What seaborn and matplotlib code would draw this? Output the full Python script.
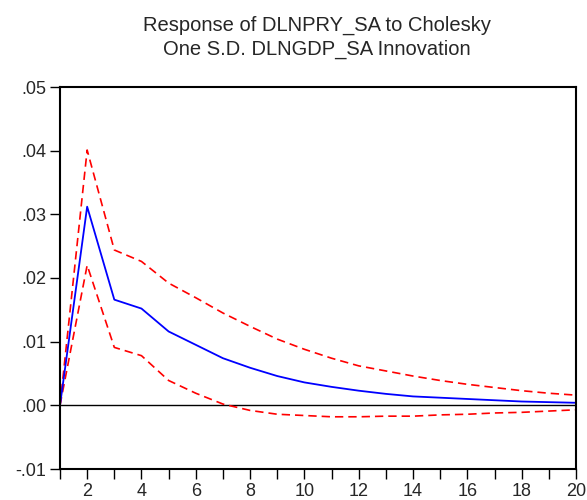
import numpy as np
import pandas as pd
import matplotlib
matplotlib.use("Agg")
import matplotlib.pyplot as plt
import seaborn as sns
from matplotlib.ticker import FuncFormatter, MultipleLocator

# impulse response values
periods = list(range(1, 21))
response = [0.0, 0.0312, 0.0166, 0.0152, 0.0116, 0.0095, 0.0074, 0.0059, 0.0046, 0.0036,
            0.0029, 0.0023, 0.0018, 0.0014, 0.0012, 0.0010, 0.0008, 0.0006, 0.0005, 0.0004]
upper = [0.0, 0.0401, 0.0244, 0.0226, 0.0192, 0.0169, 0.0145, 0.0124, 0.0104, 0.0088,
         0.0074, 0.0062, 0.0054, 0.0046, 0.0039, 0.0033, 0.0028, 0.0023, 0.0019, 0.0016]
lower = [0.0, 0.0220, 0.0091, 0.0078, 0.0039, 0.0019, 0.0002, -0.0008, -0.0014, -0.0016,
         -0.0018, -0.0018, -0.0017, -0.0017, -0.0015, -0.0014, -0.0012, -0.0011, -0.0009, -0.0007]

df = pd.DataFrame({"period": periods, "response": response, "upper": upper, "lower": lower})

sns.set_style("white")
plt.rcParams['font.family'] = ['Liberation Sans', 'DejaVu Sans']

fig = plt.figure(figsize=(5.87, 5.0), dpi=100)
ax = fig.add_axes([60 / 587, 1 - 469 / 500, 516 / 587, 382 / 500])

ax.axhline(0, color="black", lw=1.0, zorder=1)
sns.lineplot(data=df, x="period", y="upper", ax=ax, color="red", lw=1.2,
             linestyle=(0, (5, 3)))
sns.lineplot(data=df, x="period", y="lower", ax=ax, color="red", lw=1.2,
             linestyle=(0, (5, 3)))
sns.lineplot(data=df, x="period", y="response", ax=ax, color="blue", lw=1.3)

ax.set_xlim(1, 20)
ax.set_ylim(-0.01, 0.05)
ax.xaxis.set_minor_locator(MultipleLocator(1))
ax.yaxis.set_major_locator(MultipleLocator(0.01))


def fmt(v, pos):
    s = "%.2f" % v
    if s.startswith("-0"):
        return "-" + s[2:]
    if s.startswith("0"):
        return s[1:]
    return s


ax.yaxis.set_major_formatter(FuncFormatter(fmt))
ax.set_xticks([2, 4, 6, 8, 10, 12, 14, 16, 18, 20])
ax.tick_params(axis="both", which="both", direction="out", length=7, width=1.0,
               color="black", labelsize=13, bottom=True, left=True)
ax.tick_params(axis="x", pad=3)
ax.tick_params(axis="y", pad=3)
ax.set_xlabel("")
ax.set_ylabel("")
for sp in ax.spines.values():
    sp.set_color("black")
    sp.set_linewidth(1.5)

fig.text(317 / 587, 1 - 31 / 500, "Response of DLNPRY_SA to Cholesky", ha="center",
         va="baseline", fontsize=14.5)
fig.text(317 / 587, 1 - 55 / 500, "One S.D. DLNGDP_SA Innovation", ha="center",
         va="baseline", fontsize=14.5)

fig.savefig("out.png", dpi=100)
